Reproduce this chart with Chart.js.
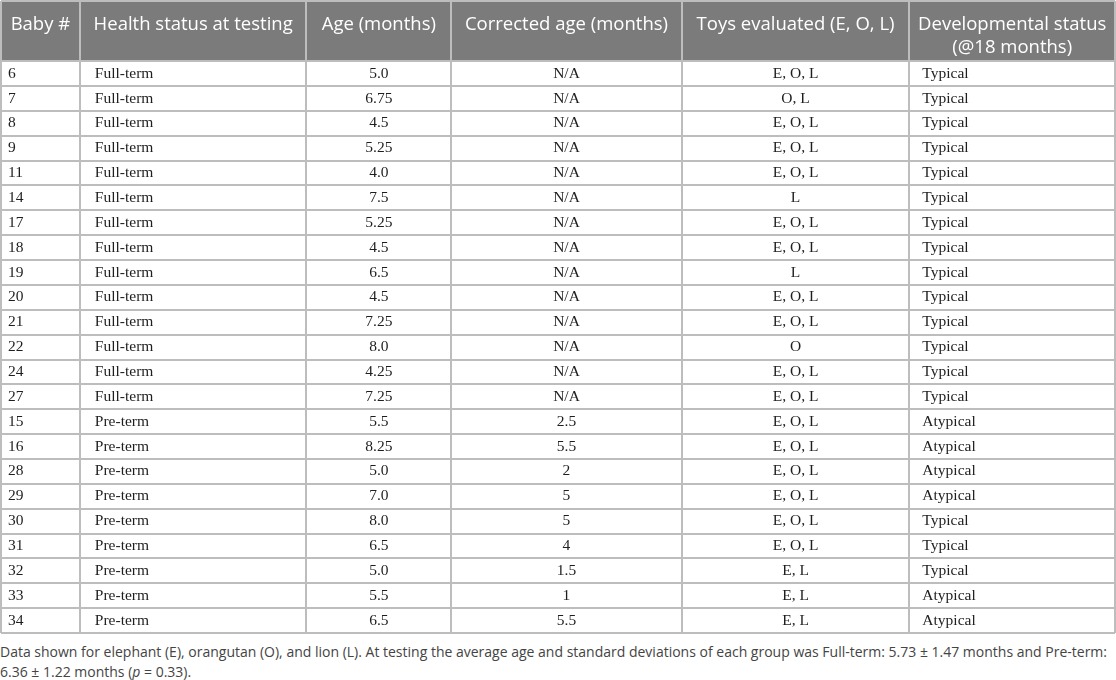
<!DOCTYPE html>
<html>
<head>
  <meta charset="UTF-8">
  <title>Baby toys table</title>
  <script src="https://cdn.jsdelivr.net/npm/chart.js@4.4.1/dist/chart.umd.min.js"></script>
  <style>
    * { margin: 0; padding: 0; box-sizing: border-box; }
    body { background: #fff; width: 1116px; height: 680px; overflow: hidden; }
    .wrap { position: relative; width: 1116px; height: 634px; }
    .note { font-family: 'Open Sans', sans-serif; font-size: 14px; color: #444; line-height: 20px; margin-top: 8px; white-space: nowrap; }
  </style>
</head>
<body>
  <div class="wrap"><canvas id="table"></canvas></div>
  <div class="note">Data shown for elephant (E), orangutan (O), and lion (L). At testing the average age and standard deviations of each group was Full-term: 5.73 ± 1.47 months and Pre-term:<br>6.36 ± 1.22 months (<i>p</i> = 0.33).</div>

  <script>
    const headers = ['Baby #', 'Health status at testing', 'Age (months)', 'Corrected age (months)', 'Toys evaluated (E, O, L)', ['Developmental status', '(@18 months)']];
    const babyIds = ['6', '7', '8', '9', '11', '14', '17', '18', '19', '20', '21', '22', '24', '27', '15', '16', '28', '29', '30', '31', '32', '33', '34'];
    const healthStatus = ['Full-term', 'Full-term', 'Full-term', 'Full-term', 'Full-term', 'Full-term', 'Full-term', 'Full-term', 'Full-term', 'Full-term', 'Full-term', 'Full-term', 'Full-term', 'Full-term',
      'Pre-term', 'Pre-term', 'Pre-term', 'Pre-term', 'Pre-term', 'Pre-term', 'Pre-term', 'Pre-term', 'Pre-term'];
    const ages = ['5.0', '6.75', '4.5', '5.25', '4.0', '7.5', '5.25', '4.5', '6.5', '4.5', '7.25', '8.0', '4.25', '7.25', '5.5', '8.25', '5.0', '7.0', '8.0', '6.5', '5.0', '5.5', '6.5'];
    const correctedAges = ['N/A', 'N/A', 'N/A', 'N/A', 'N/A', 'N/A', 'N/A', 'N/A', 'N/A', 'N/A', 'N/A', 'N/A', 'N/A', 'N/A',
      '2.5', '5.5', '2', '5', '5', '4', '1.5', '1', '5.5'];
    const toys = ['E, O, L', 'O, L', 'E, O, L', 'E, O, L', 'E, O, L', 'L', 'E, O, L', 'E, O, L', 'L', 'E, O, L', 'E, O, L', 'O', 'E, O, L', 'E, O, L',
      'E, O, L', 'E, O, L', 'E, O, L', 'E, O, L', 'E, O, L', 'E, O, L', 'E, L', 'E, L', 'E, L'];
    const devStatus = ['Typical', 'Typical', 'Typical', 'Typical', 'Typical', 'Typical', 'Typical', 'Typical', 'Typical', 'Typical', 'Typical', 'Typical', 'Typical', 'Typical',
      'Atypical', 'Atypical', 'Atypical', 'Atypical', 'Typical', 'Typical', 'Typical', 'Atypical', 'Atypical'];

    // layout (px-like units on the x scale, row units on the y scale)
    const COL_EDGES = [0, 79, 306, 451, 682, 910, 1116];
    const COL_ALIGN = ['left', 'left', 'center', 'center', 'center', 'left'];
    const COL_PAD = [7, 15, 0, 0, 0, 13];
    const HEADER_ROWS = 2.42;
    const columns = [babyIds, healthStatus, ages, correctedAges, toys, devStatus];

    function anchorX(c) {
      if (COL_ALIGN[c] === 'center') return (COL_EDGES[c] + COL_EDGES[c + 1]) / 2;
      return COL_EDGES[c] + COL_PAD[c];
    }

    const datasets = columns.map((col, c) => ({
      label: 'col' + c,
      cells: col,
      align: COL_ALIGN[c],
      data: col.map((_, r) => ({ x: anchorX(c), y: r + 0.5 })),
      pointRadius: 0,
    }));
    datasets.push({
      label: 'header',
      cells: headers,
      align: 'center',
      header: true,
      data: headers.map((_, c) => ({ x: (COL_EDGES[c] + COL_EDGES[c + 1]) / 2, y: -1.48 })),
      pointRadius: 0,
    });

    const tablePlugin = {
      id: 'tableCells',
      beforeDraw(chart) {
        const { ctx, scales: { x, y } } = chart;
        const top = y.getPixelForValue(-HEADER_ROWS);
        ctx.save();
        ctx.fillStyle = '#7b7b7b';
        ctx.fillRect(x.left, top, x.right - x.left, y.getPixelForValue(0) - top);
        ctx.restore();
      },
      afterDatasetsDraw(chart) {
        const ctx = chart.ctx;
        ctx.save();
        ctx.textBaseline = 'middle';
        chart.data.datasets.forEach((ds, i) => {
          const meta = chart.getDatasetMeta(i);
          ctx.textAlign = ds.align;
          if (ds.header) {
            ctx.font = '18.5px "Open Sans"';
            ctx.fillStyle = '#ffffff';
          } else {
            ctx.font = '15.5px "Liberation Serif"';
            ctx.fillStyle = '#1e1e1e';
          }
          meta.data.forEach((pt, j) => {
            const txt = ds.cells[j];
            const lines = Array.isArray(txt) ? txt : [txt];
            lines.forEach((line, k) => ctx.fillText(line, pt.x, pt.y + k * 23));
          });
        });
        ctx.restore();
      }
    };

    const gridOpts = { color: '#bdbdbd', lineWidth: 2, drawTicks: false };

    new Chart(document.getElementById('table'), {
      type: 'scatter',
      data: { datasets },
      options: {
        responsive: true,
        maintainAspectRatio: false,
        animation: false,
        events: [],
        layout: { padding: { top: 1, left: 1, right: 1, bottom: 1 } },
        plugins: { legend: { display: false }, tooltip: { enabled: false } },
        scales: {
          x: {
            type: 'linear',
            min: COL_EDGES[0],
            max: COL_EDGES[COL_EDGES.length - 1],
            afterBuildTicks: s => { s.ticks = COL_EDGES.map(v => ({ value: v })); },
            ticks: { display: false },
            grid: gridOpts,
            border: { display: false },
          },
          y: {
            type: 'linear',
            reverse: true,
            min: -HEADER_ROWS,
            max: babyIds.length,
            afterBuildTicks: s => { s.ticks = [-HEADER_ROWS].concat(babyIds.map((_, r) => r), [babyIds.length]).map(v => ({ value: v })); },
            ticks: { display: false },
            grid: gridOpts,
            border: { display: false },
          }
        }
      },
      plugins: [tablePlugin]
    });
  </script>
</body>
</html>
